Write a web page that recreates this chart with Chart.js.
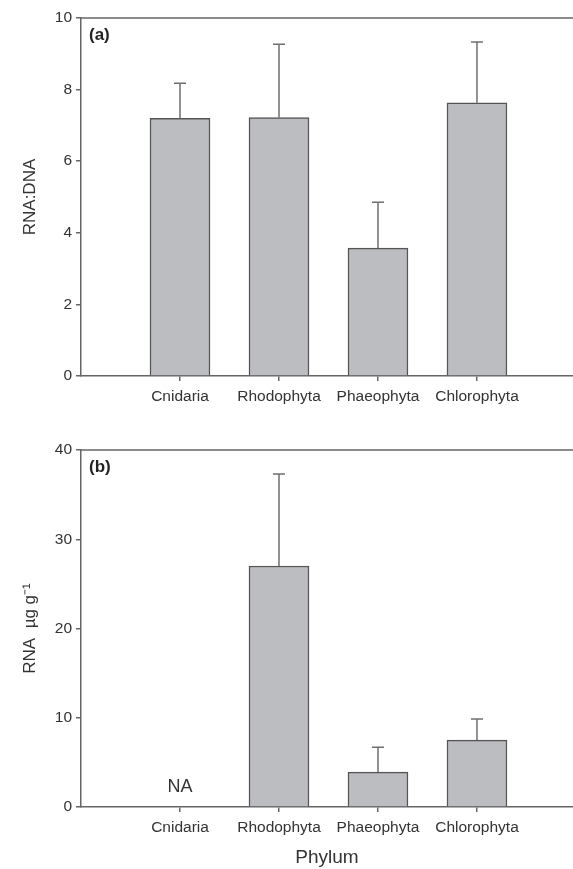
<!DOCTYPE html>
<html>
<head>
<meta charset="utf-8">
<script src="https://cdn.jsdelivr.net/npm/chart.js@4/dist/chart.umd.min.js"></script>
<style>
  html, body { margin: 0; padding: 0; background: #fff; }
  #wrap { position: relative; width: 573px; height: 869px; }
  .panel { position: absolute; left: 0; width: 573px; }
  #panelA { top: 0; height: 420px; }
  #panelB { top: 420px; height: 449px; }
</style>
</head>
<body>
<div id="wrap">
  <div class="panel" id="panelA"><canvas id="chartA"></canvas></div>
  <div class="panel" id="panelB"><canvas id="chartB"></canvas></div>
</div>
<script>
// Phyla along the x axis
const phyla = ['Cnidaria', 'Rhodophyta', 'Phaeophyta', 'Chlorophyta'];

// (a) RNA:DNA ratio, mean and error (upper bar length)
const ratioMean = [7.2, 7.22, 3.57, 7.63];
const ratioErr = [0.98, 2.05, 1.28, 1.7];

// (b) RNA concentration, ug per g (null = not available)
const rnaMean = [null, 27.0, 3.9, 7.5];
const rnaErr = [null, 10.3, 2.8, 2.35];

const ratioTicks = [0, 2, 4, 6, 8, 10];
const rnaTicks = [0, 10, 20, 30, 40];

const axisColor = '#666';
const textColor = '#333';
const barFill = '#bcbdc1';
const barEdge = '#555';
const fontFamily = '"Liberation Sans", Arial, sans-serif';

// error bars, NA markers, frame top line and panel letter
const panelExtras = {
    id: 'panelExtras',
    afterDatasetsDraw(chart, args, opts) {
        const ctx = chart.ctx;
        const xs = chart.scales.x;
        const ys = chart.scales.y;
        const area = chart.chartArea;
        const means = chart.data.datasets[0].data;

        ctx.save();
        // top frame line
        ctx.strokeStyle = axisColor;
        ctx.lineWidth = 1.5;
        ctx.beginPath();
        ctx.moveTo(area.left, area.top);
        ctx.lineTo(area.right, area.top);
        ctx.stroke();

        means.forEach((pt, i) => {
            const px = xs.getPixelForValue(pt.x);
            if (pt.y === null) {
                ctx.fillStyle = textColor;
                ctx.font = '18px ' + fontFamily;
                ctx.textAlign = 'center';
                ctx.textBaseline = 'middle';
                ctx.fillText('NA', px, ys.getPixelForValue(0) - 20);
                return;
            }
            const err = opts.errors[i];
            const y0 = ys.getPixelForValue(pt.y);
            const y1 = ys.getPixelForValue(pt.y + err);
            ctx.strokeStyle = '#6f6f6f';
            ctx.lineWidth = 1.5;
            ctx.beginPath();
            ctx.moveTo(px, y0);
            ctx.lineTo(px, y1);
            ctx.moveTo(px - 6, y1);
            ctx.lineTo(px + 6, y1);
            ctx.stroke();
        });

        // panel letter
        ctx.fillStyle = '#222';
        ctx.font = 'bold 17px ' + fontFamily;
        ctx.textAlign = 'left';
        ctx.textBaseline = 'middle';
        ctx.fillText(opts.letter, area.left + 8, area.top + 17);
        ctx.restore();
    }
};

function makePanel(canvasId, means, errors, tickVals, yTitle, xTitle, letter, topPad, xHeight) {
    const ctx = document.getElementById(canvasId).getContext('2d');
    const points = means.map((v, i) => ({ x: i + 1, y: v }));
    const step = tickVals[1] - tickVals[0];

    return new Chart(ctx, {
        type: 'bar',
        data: {
            datasets: [{
                data: points,
                backgroundColor: barFill,
                borderColor: barEdge,
                borderWidth: 1.5,
                barThickness: 60
            }]
        },
        options: {
            responsive: true,
            maintainAspectRatio: false,
            animation: false,
            layout: { padding: { top: topPad, left: 0, right: 0, bottom: 0 } },
            plugins: {
                legend: { display: false },
                tooltip: { enabled: false },
                panelExtras: { errors: errors, letter: letter }
            },
            scales: {
                x: {
                    type: 'linear',
                    min: 0,
                    max: 4.97,
                    offset: false,
                    afterBuildTicks: (scale) => {
                        scale.ticks = phyla.map((p, i) => ({ value: i + 1 }));
                    },
                    afterFit: (scale) => { scale.height = xHeight; },
                    ticks: {
                        color: textColor,
                        font: { family: fontFamily, size: 15.5 },
                        padding: 6,
                        maxRotation: 0,
                        autoSkip: false,
                        callback: (v) => phyla[v - 1]
                    },
                    grid: {
                        offset: false,
                        drawOnChartArea: false,
                        drawTicks: true,
                        tickLength: 5,
                        color: axisColor,
                        lineWidth: 1.5
                    },
                    border: { display: true, color: axisColor, width: 1.5 },
                    title: {
                        display: !!xTitle,
                        text: xTitle,
                        color: textColor,
                        font: { family: fontFamily, size: 19 },
                        padding: { top: 0, bottom: 0 }
                    }
                },
                y: {
                    min: tickVals[0],
                    max: tickVals[tickVals.length - 1],
                    afterFit: (scale) => { scale.width = 81; },
                    ticks: {
                        stepSize: step,
                        color: textColor,
                        font: { family: fontFamily, size: 15.5 },
                        padding: 4
                    },
                    grid: {
                        drawOnChartArea: false,
                        drawTicks: true,
                        tickLength: 5,
                        color: axisColor,
                        lineWidth: 1.5
                    },
                    border: { display: true, color: axisColor, width: 1.5 },
                    title: {
                        display: true,
                        text: yTitle,
                        color: textColor,
                        font: { family: fontFamily, size: 17 },
                        padding: { top: 20, bottom: 0 }
                    }
                }
            }
        },
        plugins: [panelExtras]
    });
}

makePanel('chartA', ratioMean, ratioErr, ratioTicks, 'RNA:DNA', '', '(a)', 18, 44);
makePanel('chartB', rnaMean, rnaErr, rnaTicks, 'RNA  \u00b5g g\u207b\u00b9', 'Phylum', '(b)', 30, 62);
</script>
</body>
</html>
